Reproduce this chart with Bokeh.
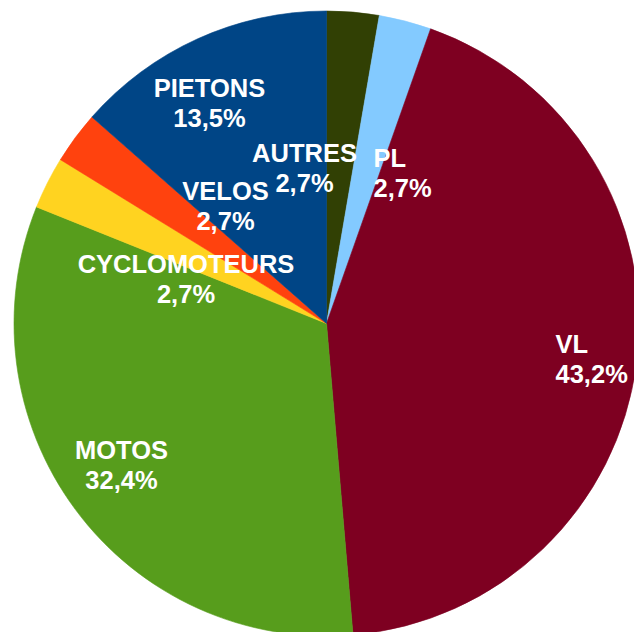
import numpy as np
from bokeh.plotting import figure
from bokeh.models import ColumnDataSource, Range1d
from bokeh.core.properties import value
from bokeh.embed import file_html
from bokeh.resources import INLINE

# ---- data ----
categories = ["AUTRES", "PL", "VL", "MOTOS", "CYCLOMOTEURS", "VELOS", "PIETONS"]
percents = [2.7, 2.7, 43.2, 32.4, 2.7, 2.7, 13.5]
pct_labels = ["2,7%", "2,7%", "43,2%", "32,4%", "2,7%", "2,7%", "13,5%"]
colors = ["#314004", "#83CAFF", "#7E0021", "#579D1C", "#FFD320", "#FF420E", "#004586"]

# ---- layout (pixels) ----
W, H = 634, 632
CX, CY, R = 326, 309, 312.5
# label block offsets from pie centre (dx right, dy up) and alignment
label_dx = [-22, 47, 229, -205, -140.5, -101, -117]
label_dy = [155.5, 150.5, -35, -141.5, 44.5, 117.5, 220.5]
label_align = ["center", "left", "left", "center", "center", "center", "center"]
LINE_GAP = 15
FONT_SIZE = "25.5px"

vals = np.array(percents, dtype=float)
frac = vals / vals.sum()
cum_end = np.cumsum(frac)
cum_start = cum_end - frac
start_angle = np.pi / 2 - cum_start * 2 * np.pi
end_angle = np.pi / 2 - cum_end * 2 * np.pi

src = ColumnDataSource(dict(
    cat=categories, pct=pct_labels, color=colors,
    start=start_angle, end=end_angle,
))

p = figure(width=W, height=H, output_backend="svg", toolbar_location=None,
           x_range=Range1d(0, W), y_range=Range1d(0, H), min_border=0)
p.axis.visible = False
p.grid.visible = False
p.outline_line_color = None
p.background_fill_color = "white"
p.border_fill_color = "white"

p.wedge(x=CX, y=CY, radius=R, start_angle="start", end_angle="end",
        direction="clock", fill_color="color", line_color="color",
        line_width=0.6, source=src)

for i in range(len(categories)):
    lx = CX + label_dx[i]
    ly = CY + label_dy[i]
    p.text(x=[lx], y=[ly + LINE_GAP], text=[categories[i]],
           text_font=value("Liberation Sans"), text_font_style="bold",
           text_font_size=FONT_SIZE, text_color="white",
           text_align=label_align[i], text_baseline="middle")
    p.text(x=[lx], y=[ly - LINE_GAP], text=[pct_labels[i]],
           text_font=value("Liberation Sans"), text_font_style="bold",
           text_font_size=FONT_SIZE, text_color="white",
           text_align=label_align[i], text_baseline="middle")

open("out.html", "w").write(file_html(p, INLINE))
